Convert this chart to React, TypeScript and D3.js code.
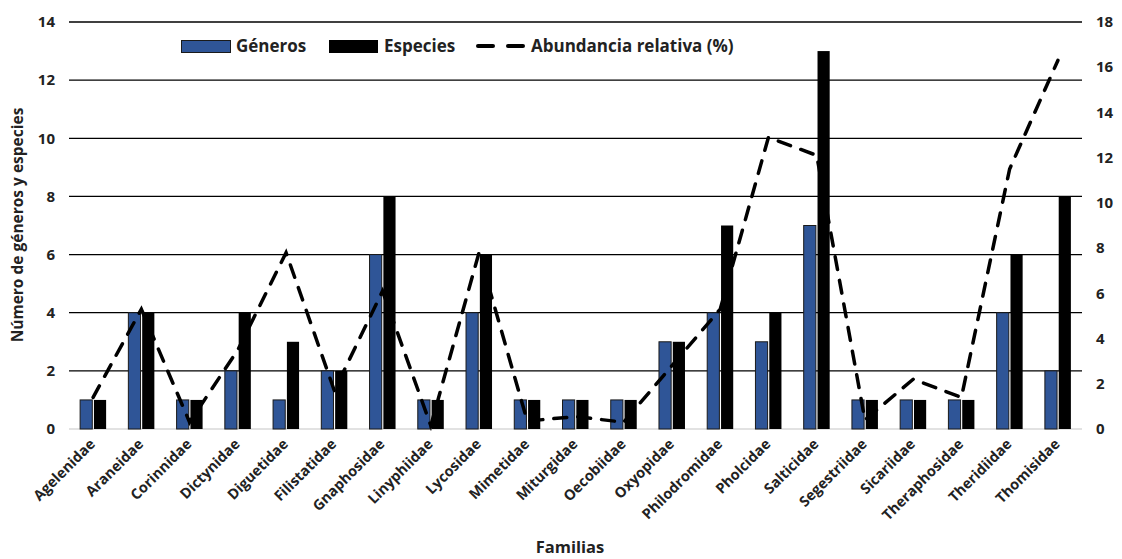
import React from 'react';
import * as d3 from 'd3';

const familias = [
  'Agelenidae', 'Araneidae', 'Corinnidae', 'Dictynidae', 'Diguetidae', 'Filistatidae',
  'Gnaphosidae', 'Linyphiidae', 'Lycosidae', 'Mimetidae', 'Miturgidae', 'Oecobiidae',
  'Oxyopidae', 'Philodromidae', 'Pholcidae', 'Salticidae', 'Segestriidae', 'Sicariidae',
  'Theraphosidae', 'Theridiidae', 'Thomisidae',
];
const generos = [1, 4, 1, 2, 1, 2, 6, 1, 4, 1, 1, 1, 3, 4, 3, 7, 1, 1, 1, 4, 2];
const especies = [1, 4, 1, 4, 3, 2, 8, 1, 6, 1, 1, 1, 3, 7, 4, 13, 1, 1, 1, 6, 8];
const abundancia = [1.4, 5.3, 0.3, 3.5, 7.8, 1.7, 6.1, 0.15, 7.8, 0.35, 0.55, 0.3, 2.8, 5.3, 12.9, 12.1, 0.4, 2.2, 1.4, 11.5, 16.3];
const leftTicks = [0, 2, 4, 6, 8, 10, 12, 14];
const rightTicks = [0, 2, 4, 6, 8, 10, 12, 14, 16, 18];

const W = 1122;
const H = 559;
const plot = { left: 69, right: 1082, top: 22, bottom: 429 };
const font = "'Open Sans', 'Liberation Sans', sans-serif";
const BLUE = '#2F5597';

const App = () => {
  const x = d3.scaleBand<string>().domain(familias).range([plot.left, plot.right]).padding(0);
  const bw = x.bandwidth();
  const sub = d3
    .scaleBand<string>()
    .domain(['g', 'e'])
    .range([bw / 2 - 13, bw / 2 + 13])
    .paddingInner(0.12);
  const yL = d3.scaleLinear().domain([0, 14]).range([plot.bottom, plot.top]);
  const yR = d3.scaleLinear().domain([0, 18]).range([plot.bottom, plot.top]);

  const lineGen = d3
    .line<number>()
    .x((_, i) => (x(familias[i]) as number) + bw / 2)
    .y((v) => yR(v));

  return (
    <>
      <style>{'body{margin:0}'}</style>
      <svg width={W} height={H} style={{ display: 'block', background: '#fff' }} fontFamily={font}>
        {/* gridlines */}
        {leftTicks.filter((t) => t > 0).map((t) => (
          <line key={t} x1={plot.left} x2={plot.right} y1={yL(t)} y2={yL(t)} stroke="#000" strokeWidth={1.3} />
        ))}
        <line x1={plot.left} x2={plot.right} y1={plot.bottom} y2={plot.bottom} stroke="#d9d9d9" strokeWidth={1.5} />

        {/* left ticks */}
        {leftTicks.map((t) => (
          <text key={t} x={55} y={yL(t)} dy="0.35em" textAnchor="end" fontSize={15} fontWeight="bold" fill="#222">
            {t}
          </text>
        ))}
        {/* right ticks */}
        {rightTicks.map((t) => (
          <text key={t} x={1096} y={yR(t)} dy="0.35em" textAnchor="start" fontSize={15} fontWeight="bold" fill="#222">
            {t}
          </text>
        ))}

        {/* bars */}
        {familias.map((f, i) => {
          const x0 = x(f) as number;
          return (
            <g key={f}>
              <rect
                x={x0 + (sub('g') as number)}
                y={yL(generos[i])}
                width={sub.bandwidth()}
                height={plot.bottom - yL(generos[i])}
                fill={BLUE}
                stroke="#1a1a1a"
                strokeWidth={1}
              />
              <rect
                x={x0 + (sub('e') as number)}
                y={yL(especies[i])}
                width={sub.bandwidth()}
                height={plot.bottom - yL(especies[i])}
                fill="#000"
              />
            </g>
          );
        })}

        {/* abundance line */}
        <path
          d={lineGen(abundancia) || ''}
          fill="none"
          stroke="#000"
          strokeWidth={3.5}
          strokeDasharray="13 11"
          strokeLinecap="round"
        />

        {/* x labels */}
        {familias.map((f) => {
          const cx = (x(f) as number) + bw / 2 + 3;
          const cy = 445;
          return (
            <text
              key={f}
              x={cx}
              y={cy}
              transform={`rotate(-45 ${cx} ${cy})`}
              textAnchor="end"
              fontSize={14.5}
              fontWeight="bold"
              fill="#222"
            >
              {f}
            </text>
          );
        })}

        {/* axis titles */}
        <text
          x={0}
          y={0}
          transform={`translate(23 225) rotate(-90)`}
          textAnchor="middle"
          fontSize={15.5}
          fontWeight="bold"
          fill="#222"
        >
          Número de géneros y especies
        </text>
        <text x={570} y={553} textAnchor="middle" fontSize={16.5} fontWeight="bold" fill="#222">
          Familias
        </text>

        {/* legend */}
        <g fontSize={17} fontWeight="bold" fill="#222">
          <rect x={181.5} y={40.5} width={49} height={12} fill={BLUE} stroke="#1a1a1a" strokeWidth={1} />
          <text x={236} y={46} dy="0.35em">Géneros</text>
          <rect x={329} y={40} width={49} height={13} fill="#000" />
          <text x={384} y={46} dy="0.35em">Especies</text>
          <line x1={478} x2={493} y1={46} y2={46} stroke="#000" strokeWidth={4} strokeLinecap="round" />
          <line x1={508} x2={523} y1={46} y2={46} stroke="#000" strokeWidth={4} strokeLinecap="round" />
          <text x={531} y={46} dy="0.35em">Abundancia relativa (%)</text>
        </g>
      </svg>
    </>
  );
};

export default App;
